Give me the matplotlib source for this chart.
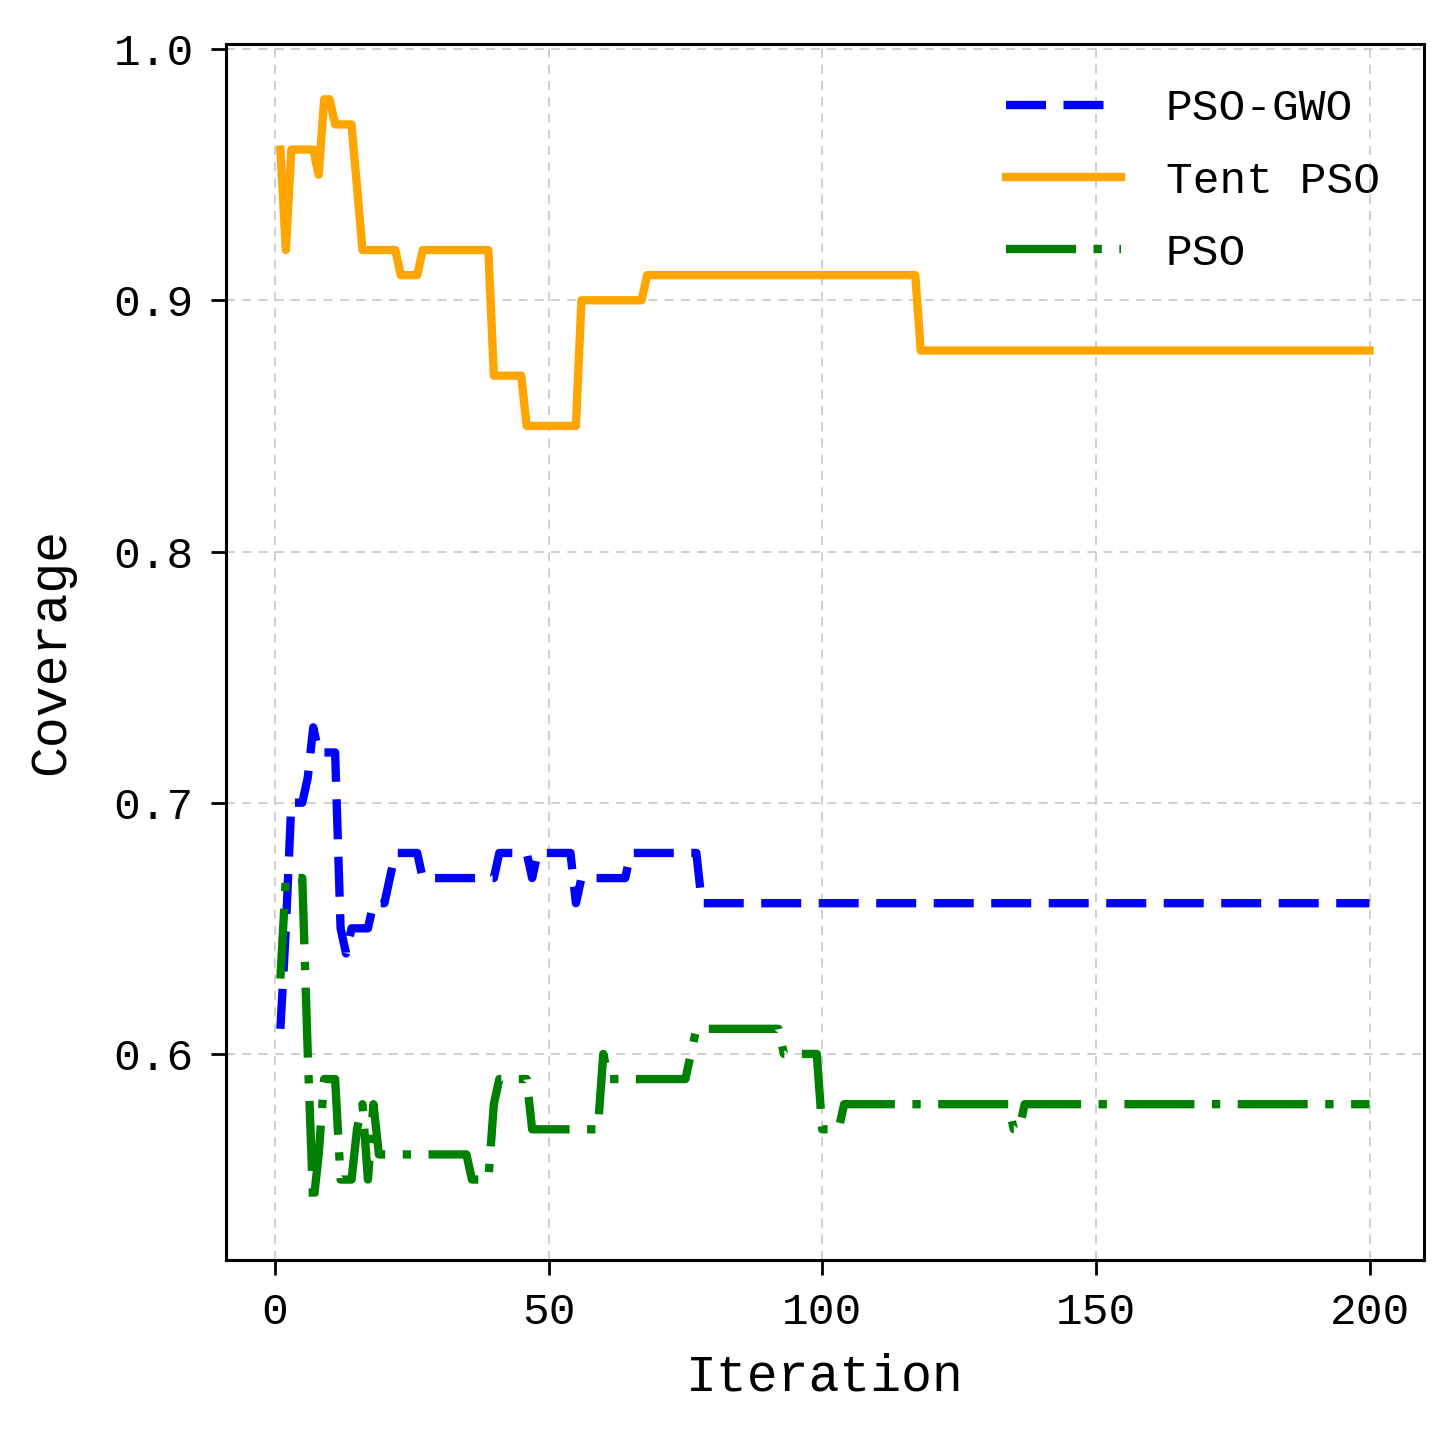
import matplotlib
matplotlib.use("Agg")
from matplotlib import pyplot as plt

plt.rcParams['font.family'] = ['Liberation Mono', 'DejaVu Sans']

# PSO-GWO (vertices)
gwo_it = [1, 2, 3, 5, 6, 7, 8, 11, 12, 13, 14, 17, 18, 20, 21, 22, 26, 27, 40, 41,
          46, 47, 48, 54, 55, 56, 64, 65, 77, 78, 200]
gwo_cov = [0.61, 0.65, 0.70, 0.70, 0.71, 0.73, 0.72, 0.72, 0.65, 0.64, 0.65, 0.65,
           0.66, 0.66, 0.67, 0.68, 0.68, 0.67, 0.67, 0.68, 0.68, 0.67, 0.68, 0.68,
           0.66, 0.67, 0.67, 0.68, 0.68, 0.66, 0.66]

# Tent PSO
tent_it = [1, 2, 3, 7, 8, 9, 10, 11, 14, 16, 22, 23, 26, 27, 39, 40, 45, 46, 55, 56,
           67, 68, 117, 118, 200]
tent_cov = [0.96, 0.92, 0.96, 0.96, 0.95, 0.98, 0.98, 0.97, 0.97, 0.92, 0.92, 0.91,
            0.91, 0.92, 0.92, 0.87, 0.87, 0.85, 0.85, 0.90, 0.90, 0.91, 0.91, 0.88, 0.88]

# PSO
pso_it = [1, 2, 5, 6, 7, 8, 9, 11, 12, 14, 15, 16, 17, 18, 19, 35, 36, 39, 40, 41,
          46, 47, 59, 60, 61, 75, 77, 92, 93, 99, 100, 103, 104, 134, 135, 136, 137, 200]
pso_cov = [0.63, 0.67, 0.67, 0.60, 0.54, 0.56, 0.59, 0.59, 0.55, 0.55, 0.57, 0.58,
           0.55, 0.58, 0.56, 0.56, 0.55, 0.55, 0.58, 0.59, 0.59, 0.57, 0.57, 0.60,
           0.59, 0.59, 0.61, 0.61, 0.60, 0.60, 0.57, 0.57, 0.58, 0.58, 0.57, 0.57,
           0.58, 0.58]

fig = plt.figure(figsize=(14.52, 14.35), dpi=100)
ax = fig.add_axes([0.1556, 0.122, 0.8251, 0.8473])

ax.plot(gwo_it, gwo_cov, color='blue', lw=6, linestyle='--', dashes=(4.8, 2.1),
        label='PSO-GWO')
ax.plot(tent_it, tent_cov, color='orange', lw=6, linestyle='-', label='Tent PSO')
ax.plot(pso_it, pso_cov, color='green', lw=6, linestyle='-.',
        dashes=(8.4, 2.1, 1, 2.1), label='PSO')

ax.set_xticks([0, 50, 100, 150, 200])
ax.set_yticks([0.6, 0.7, 0.8, 0.9, 1.0])
ax.tick_params(labelsize=32, length=11, width=2, pad=12)
ax.set_xlabel('Iteration', fontsize=37, labelpad=14)
ax.set_ylabel('Coverage', fontsize=37, labelpad=28)

ax.grid(True, linestyle=(0, (5, 4)), color='#cccccc', lw=1.3)
for s in ax.spines.values():
    s.set_linewidth(2.2)

ax.legend(loc='upper right', frameon=False, fontsize=32, handlelength=2.6,
          handletextpad=1.0, labelspacing=0.7, borderaxespad=0.6)

plt.savefig('out.png', dpi=100)
